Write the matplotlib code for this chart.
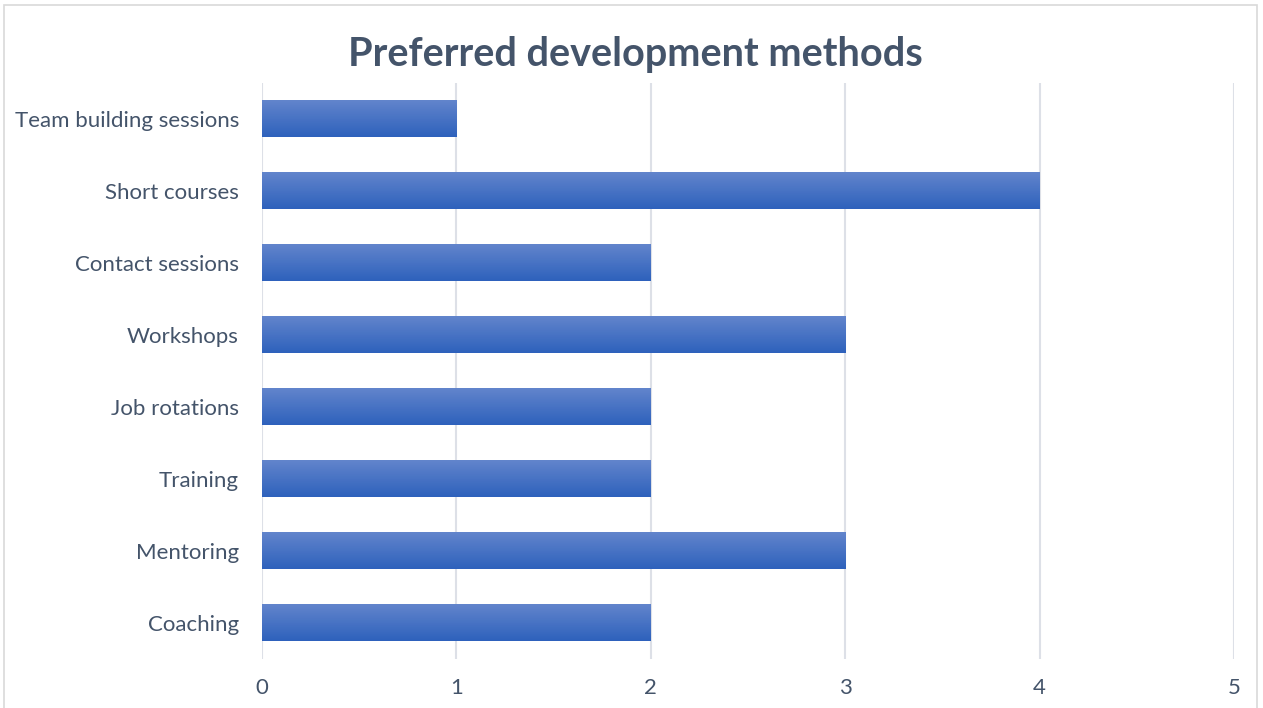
import numpy as np
import matplotlib.pyplot as plt
from matplotlib.patches import Rectangle
from matplotlib.colors import LinearSegmentedColormap

categories = ['Coaching', 'Mentoring', 'Training', 'Job rotations',
              'Workshops', 'Contact sessions', 'Short courses', 'Team building sessions']
counts = [2, 3, 2, 2, 3, 2, 4, 1]
x_ticks = [0, 1, 2, 3, 4, 5]

plt.rcParams['font.family'] = ['Lato', 'DejaVu Sans']
text_color = '#44546a'

fig = plt.figure(figsize=(12.63, 7.08), dpi=100)
ax = fig.add_axes([0.2074, 0.0692, 0.7696, 0.8136])

# outer chart frame (runs past the bottom edge, as in the cropped reference)
fig.patches.append(Rectangle((4 / 1263, -0.05), 1253 / 1263, 1.05 - 5 / 708,
                             transform=fig.transFigure, fill=False,
                             edgecolor='#d9d9d9', linewidth=1.2))

grad = LinearSegmentedColormap.from_list('bar', ['#2e61bc', '#6285cc'])
gradient = np.linspace(0, 1, 64).reshape(-1, 1)
bar_h = 0.51
for i, v in enumerate(counts):
    ax.imshow(gradient, extent=[0, v, i - bar_h / 2, i + bar_h / 2],
              origin='lower', cmap=grad, aspect='auto', zorder=3)

ax.set_xlim(0, 5)
ax.set_ylim(-0.5, len(categories) - 0.5)
ax.set_xticks(x_ticks)
ax.set_yticks(range(len(categories)))
ax.set_yticklabels(categories)
ax.tick_params(axis='both', length=0, labelsize=16, colors=text_color)
ax.tick_params(axis='x', pad=14)
ax.tick_params(axis='y', pad=16.5)

ax.grid(axis='x', color='#dde0e7', linewidth=1.5, zorder=0)
ax.set_axisbelow(True)
for s in ax.spines.values():
    s.set_visible(False)

fig.text(0.503, 0.923, 'Preferred development methods', ha='center', va='center',
         fontsize=28.5, fontweight='bold', color=text_color)

fig.savefig('out.png', dpi=100)
